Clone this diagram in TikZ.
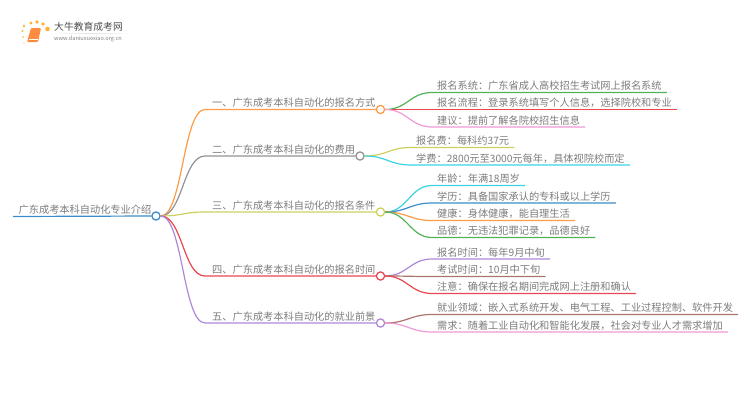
\documentclass[tikz,border=0pt]{standalone}
\usepackage{fontspec}
\setmainfont{Noto Sans CJK SC}
\usetikzlibrary{calc}
\definecolor{colorRoot}{HTML}{3A8CCB}
\definecolor{colorOrange}{HTML}{FF9A45}
\definecolor{colorGrey}{HTML}{929292}
\definecolor{colorOlive}{HTML}{CFCF5F}
\definecolor{colorRed}{HTML}{E8474F}
\definecolor{colorPurple}{HTML}{AE87D8}
\definecolor{colorGreen}{HTML}{52B257}
\definecolor{colorPink}{HTML}{F09AD8}
\definecolor{colorCyan}{HTML}{3CD2E2}
\definecolor{colorBrown}{HTML}{A9766F}
\definecolor{colorText}{HTML}{7C7C7C}
\tikzset{
  topic/.style={anchor=south west, inner xsep=5pt, inner ysep=1.5pt, text=colorText, font=\fontsize{10.2}{11}\selectfont},
  branch/.style={line width=1.2pt},
  dot/.style={circle, draw, fill=white, line width=1.25pt, minimum size=8.2pt, inner sep=0pt},
}
\newcommand{\linkUp}[3]{\draw[branch, #1] (#2.east) .. controls +(22,0) and ($(#3.south west)+(-22,0)$) .. (#3.south west) -- (#3.south east);}
\newcommand{\linkMain}[3]{\draw[branch, #1] (n0.east) .. controls +(22,0) and ($(#2.south west)+(-22,0)$) .. (#2.south west) -- (#3.west);}
\begin{document}
\begin{tikzpicture}[x=1pt, y=-1pt]
\useasboundingbox (0,0) rectangle (750,410);
% logo
\foreach \px/\py/\pr in {24/26/1.4, 31/23/1.7, 37/22/1.8, 43/24/1.9, 47.5/29/2.3, 22.5/31/1.1, 23/37/.9, 24/43/.7}
  \fill[colorOrange!75!yellow] (\px,\py) circle (\pr);
\fill[colorOrange!90!red, rounded corners=1pt] (31,28) -- (41,28) -- (38,42) -- (27,42) -- cycle;
\draw[white, line width=.5pt] (29,39.5) -- (38,39.5);
\fill[left color=white, right color=white, middle color=black!12] (50,33) rectangle (133,33.6);
\node[inner sep=0pt, anchor=west, text=black!70] (logoname) at (54,27) {\fontsize{9.8}{11}\selectfont 大牛教育成考网};
\node[inner sep=0pt, anchor=west, text=black!50] (logourl) at (54,39) {\fontsize{5.6}{6}\selectfont www.daniuxuexiao.org.cn};
% topics
\node[topic, inner xsep=5.5pt] (root) at (13,216.5) {广东成考本科自动化专业介绍};
\node[topic, inner xsep=7pt] (t1) at (205,109.5) {一、广东成考本科自动化的报名方式};
\node[topic, inner xsep=7pt] (t2) at (205,156) {二、广东成考本科自动化的费用};
\node[topic, inner xsep=7pt] (t3) at (205,212) {三、广东成考本科自动化的报名条件};
\node[topic, inner xsep=7pt] (t4) at (205,276) {四、广东成考本科自动化的报名时间};
\node[topic, inner xsep=7pt] (t5) at (205,323) {五、广东成考本科自动化的就业前景};
\node[dot, draw=colorRoot] (n0) at (156,216) {};
\node[dot, draw=colorOrange] (n1) at (380.5,109.5) {};
\node[dot, draw=colorGrey] (n2) at (360,156) {};
\node[dot, draw=colorOlive] (n3) at (380.5,212) {};
\node[dot, draw=colorRed] (n4) at (380.5,276) {};
\node[dot, draw=colorPurple] (n5) at (380.5,323) {};
\node[topic] (a1) at (432,92.5) {报名系统：广东省成人高校招生考试网上报名系统};
\node[topic] (a2) at (432,109.5) {报名流程：登录系统填写个人信息，选择院校和专业};
\node[topic] (a3) at (432,127) {建议：提前了解各院校招生信息};
\node[topic] (b1) at (411,147.5) {报名费：每科约37元};
\node[topic] (b2) at (411,165) {学费：2800元至3000元每年，具体视院校而定};
\node[topic] (c1) at (432,185.5) {年龄：年满18周岁};
\node[topic] (c2) at (432,203) {学历：具备国家承认的专科或以上学历};
\node[topic] (c3) at (432,220.5) {健康：身体健康，能自理生活};
\node[topic] (c4) at (432,237.5) {品德：无违法犯罪记录，品德良好};
\node[topic] (d1) at (432,259) {报名时间：每年9月中旬};
\node[topic] (d2) at (432,276.5) {考试时间：10月中下旬};
\node[topic] (d3) at (432,293.5) {注意：确保在报名期间完成网上注册和确认};
\node[topic] (e1) at (432,314.5) {就业领域：嵌入式系统开发、电气工程、工业过程控制、软件开发};
\node[topic] (e2) at (432,332) {需求：随着工业自动化和智能化发展，社会对专业人才需求增加};
% connectors
\draw[branch, colorRoot] (root.south west) -- (n0.west);
\linkMain{colorOrange}{t1}{n1}
\linkMain{colorGrey}{t2}{n2}
\linkMain{colorOlive}{t3}{n3}
\linkMain{colorRed}{t4}{n4}
\linkMain{colorPurple}{t5}{n5}
\linkUp{colorGreen}{n1}{a1}
\linkUp{colorRed}{n1}{a2}
\linkUp{colorPink}{n1}{a3}
\linkUp{colorOlive}{n2}{b1}
\linkUp{colorCyan}{n2}{b2}
\linkUp{colorCyan}{n3}{c1}
\linkUp{colorRoot}{n3}{c2}
\linkUp{colorOrange}{n3}{c3}
\linkUp{colorGreen}{n3}{c4}
\linkUp{colorPurple}{n4}{d1}
\linkUp{colorBrown}{n4}{d2}
\linkUp{colorRed}{n4}{d3}
\linkUp{colorBrown}{n5}{e1}
\linkUp{colorPink}{n5}{e2}
\end{tikzpicture}
\end{document}
